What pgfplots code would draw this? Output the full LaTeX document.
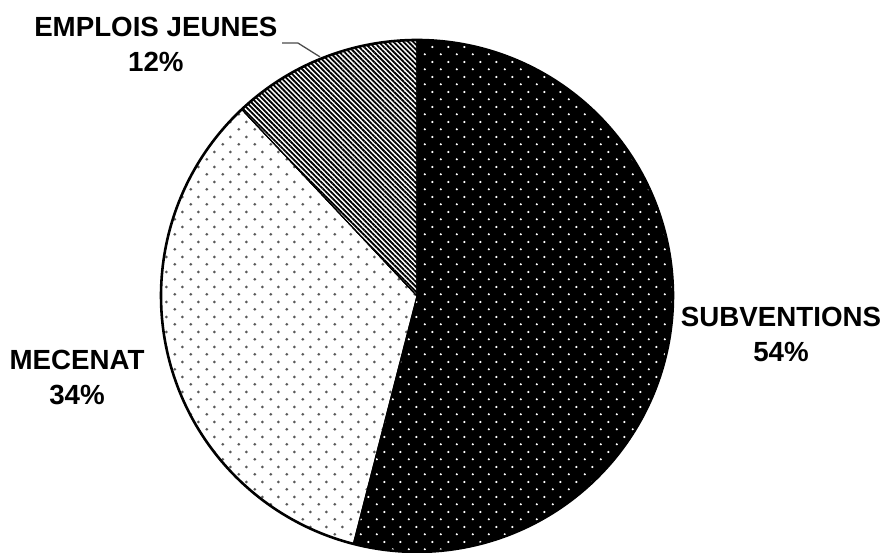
\documentclass[border=0pt]{standalone}
\usepackage{fontspec}
\setmainfont{Liberation Sans}
\usepackage{pgfplots}
\pgfplotsset{compat=1.18}
\usetikzlibrary{patterns,patterns.meta}

% staggered dot lattices used by two slices
\pgfdeclarepattern{
  name=dotsW, type=uncolored,
  bottom left={\pgfpoint{0pt}{0pt}}, top right={\pgfpoint{6pt}{5.9pt}},
  tile size={\pgfpoint{6pt}{5.9pt}},
  code={
    \pgfpathcircle{\pgfpoint{1.5pt}{1.5pt}}{0.48pt}
    \pgfpathcircle{\pgfpoint{4.5pt}{4.45pt}}{0.48pt}
    \pgfusepath{fill}
  }
}
\pgfdeclarepattern{
  name=dotsB, type=uncolored,
  bottom left={\pgfpoint{0pt}{0pt}}, top right={\pgfpoint{6pt}{5.9pt}},
  tile size={\pgfpoint{6pt}{5.9pt}},
  code={
    \pgfpathcircle{\pgfpoint{1.5pt}{1.5pt}}{0.6pt}
    \pgfpathcircle{\pgfpoint{4.5pt}{4.45pt}}{0.6pt}
    \pgfusepath{fill}
  }
}

% shares in percent
\def\vSub{54}
\def\vMec{34}
\def\vEmp{12}

\begin{document}
\begin{tikzpicture}
\pgfmathsetmacro{\aA}{90}
\pgfmathsetmacro{\aB}{\aA-3.6*\vSub}
\pgfmathsetmacro{\aC}{\aB-3.6*\vMec}
\pgfmathsetmacro{\aD}{\aC-3.6*\vEmp}
\tikzset{lbl/.style={font=\fontsize{10.7}{13.5}\selectfont\bfseries, align=center}}
\begin{axis}[
  scale only axis,
  width=12cm, height=7.506cm,
  xmin=-1.6289, xmax=1.8242,
  ymin=-1.0039, ymax=1.15625,
  hide axis, clip=false,
]
% SUBVENTIONS
\addplot[draw=black, line width=0.4pt, fill=black,
  postaction={pattern=dotsW, pattern color=white},
  domain=\aB:\aA, samples=150] ({cos(x)},{sin(x)}) -- (axis cs:0,0) -- cycle;
% MECENAT
\addplot[draw=black, line width=0.4pt, fill=white,
  postaction={pattern=dotsB, pattern color=black!65},
  domain=\aC:\aB, samples=120] ({cos(x)},{sin(x)}) -- (axis cs:0,0) -- cycle;
% EMPLOIS JEUNES
\addplot[draw=black, line width=0.4pt, fill=white,
  postaction={pattern={Lines[angle=-45,distance=1.35pt,line width=0.7pt]}, pattern color=black},
  domain=\aD:\aC, samples=60] ({cos(x)},{sin(x)}) -- (axis cs:0,0) -- cycle;
% outline
\addplot[draw=black, line width=1pt, domain=-270:90, samples=300] ({cos(x)},{sin(x)});
% leader line
\addplot[gray!60!black, line width=0.5pt] coordinates {(-0.527,0.988) (-0.465,0.988) (-0.379,0.934)};

\node[lbl] at (axis cs:-1.020,0.982) {EMPLOIS JEUNES\\12\%};
\node[lbl] at (axis cs:1.422,-0.152) {SUBVENTIONS\\54\%};
\node[lbl] at (axis cs:-1.328,-0.320) {MECENAT\\34\%};
\end{axis}
\pgfresetboundingbox
\path (current axis.south west) rectangle (current axis.north east);
\end{tikzpicture}
\end{document}
